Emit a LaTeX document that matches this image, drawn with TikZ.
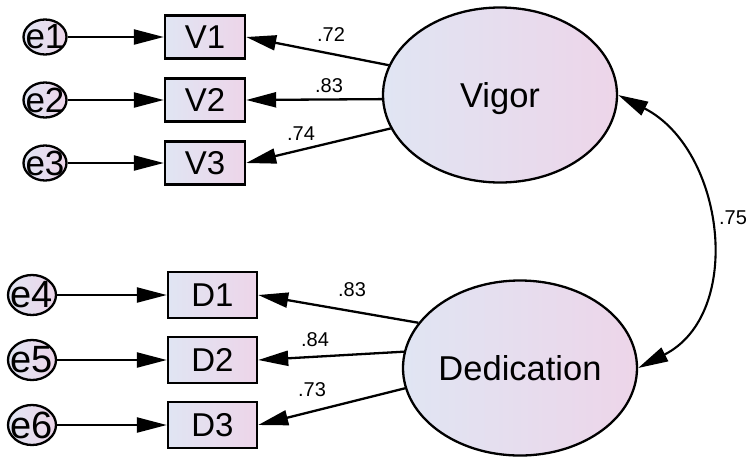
\documentclass[tikz,border=0pt]{standalone}
\usepackage{fontspec}
\setmainfont{Liberation Sans}
\usetikzlibrary{arrows.meta,shapes.geometric}
\definecolor{fillL}{RGB}{224,229,243}
\definecolor{fillR}{RGB}{237,213,233}

\begin{document}
\begin{tikzpicture}[x=1pt,y=-1pt,
  shade base/.style={left color=fillL, right color=fillR, draw=black},
  obs/.style={shade base, rectangle, line width=2.4pt, inner sep=0pt,
    minimum width=80pt, minimum height=43pt, font=\fontsize{33}{33}\selectfont},
  obsD/.style={obs, minimum width=89pt, minimum height=46pt},
  latent/.style={shade base, ellipse, line width=2.3pt, inner sep=0pt,
    minimum width=234pt, minimum height=175pt, text depth=0pt,
    font=\fontsize{34.5}{34.5}\selectfont},
  errc/.style={shade base, ellipse, line width=2.3pt, inner sep=0pt,
    minimum width=43pt, minimum height=35pt,
    label={[font=\fontsize{35}{35}\selectfont, inner sep=0pt]center:#1}},
  errD/.style={shade base, ellipse, line width=2.3pt, inner sep=0pt,
    minimum width=48pt, minimum height=40pt,
    label={[font=\fontsize{38}{38}\selectfont, inner sep=0pt]center:#1}},
  conn/.style={line width=2.3pt, -{Triangle[length=30pt,width=15pt]}},
  coef/.style={font=\fontsize{20}{20}\selectfont, inner sep=0pt}
]
\useasboundingbox (0,0) rectangle (752,456);

% latent factors
\node[latent] (vigor) at (500,95) {Vigor};
\node[latent] (ded) at (520,368) {Dedication};

% observed indicators
\node[obs] (v1) at (205,37) {V1};
\node[obs] (v2) at (205,100) {V2};
\node[obs] (v3) at (205,163) {V3};
\node[obsD] (d1) at (212.5,295) {D1};
\node[obsD] (d2) at (212.5,360) {D2};
\node[obsD] (d3) at (212.5,425) {D3};

% error terms
\node[errc=e1] (e1) at (45,37) {};
\node[errc=e2] (e2) at (45,100) {};
\node[errc=e3] (e3) at (45,163) {};
\node[errD=e4] (e4) at (32,295) {};
\node[errD=e5] (e5) at (32,360) {};
\node[errD=e6] (e6) at (32,425) {};

% error paths
\foreach \e/\o in {e1/v1,e2/v2,e3/v3,e4/d1,e5/d2,e6/d3}
  \draw[conn] (\e) -- (\o);

% factor loadings
\draw[conn] (vigor.165) -- (v1.east);
\draw[conn] (vigor.182) -- (v2.east);
\draw[conn] (vigor.197) -- (v3.east);
\draw[conn] (ded.156) -- (d1.east);
\draw[conn] (ded.172) -- (d2.east);
\draw[conn] (ded.190) -- (d3.east);

% covariance
\draw[line width=2.1pt, {Triangle[length=30pt,width=15pt]}-{Triangle[length=30pt,width=15pt]}]
  (vigor.east) to[out=-27, in=27, looseness=1.12] (ded.east);

% coefficients
\node[coef] (c1) at (331,35) {.72};
\node[coef] (c2) at (329,86) {.83};
\node[coef] (c3) at (301,134) {.74};
\node[coef] (c4) at (352,290) {.83};
\node[coef] (c5) at (315,340) {.84};
\node[coef] (c6) at (312,390) {.73};
\node[coef] (c7) at (733,218) {.75};
\end{tikzpicture}
\end{document}
